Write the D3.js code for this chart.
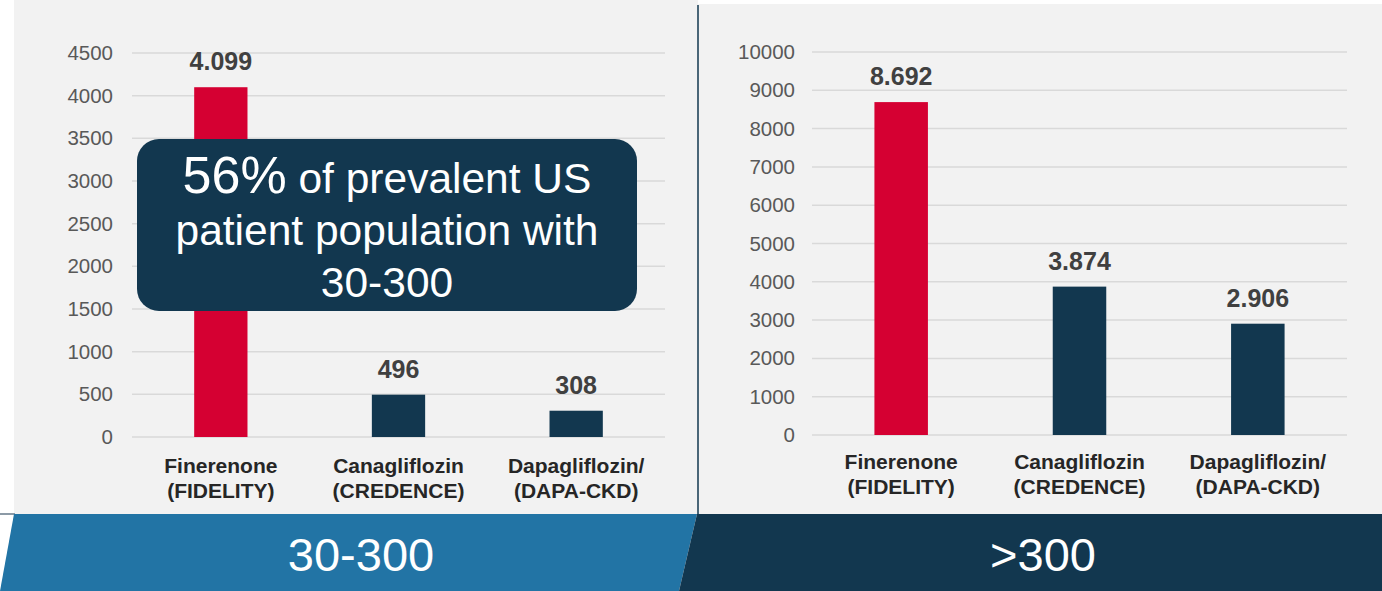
<!DOCTYPE html>
<html><head><meta charset="utf-8">
<script src="https://cdn.jsdelivr.net/npm/d3@7"></script>
<style>html,body{margin:0;padding:0;background:#fff;}svg{display:block;font-family:"Liberation Sans",Arial,sans-serif;}</style>
</head><body><svg id="c" width="1382" height="591"></svg>
<script>
const categories = [["Finerenone","(FIDELITY)"],["Canagliflozin","(CREDENCE)"],["Dapagliflozin/","(DAPA-CKD)"]];
const valuesLow = [4099, 496, 308];
const labelsLow = ["4.099", "496", "308"];
const valuesHigh = [8692, 3874, 2906];
const labelsHigh = ["8.692", "3.874", "2.906"];
const ticksLow = [0,500,1000,1500,2000,2500,3000,3500,4000,4500];
const ticksHigh = [0,1000,2000,3000,4000,5000,6000,7000,8000,9000,10000];
const barColors = ["#d50032", "#12374f", "#12374f"];
const bandLabels = ["30-300", ">300"];
const calloutLines = [["56%", " of prevalent US"], ["", "patient population with"], ["", "30-300"]];

const svg = d3.select("#c");
const NAVY = "#12374f";

// panels
svg.append("rect").attr("x",14).attr("y",0).attr("width",684).attr("height",514).attr("fill","#f2f2f2");
svg.append("rect").attr("x",698).attr("y",4).attr("width",684).attr("height",510).attr("fill","#f2f2f2");
svg.append("line").attr("x1",698).attr("x2",698).attr("y1",5).attr("y2",514).attr("stroke",NAVY).attr("stroke-width",1.5);
svg.append("line").attr("x1",0).attr("x2",15).attr("y1",514).attr("y2",514).attr("stroke","#8c9aa6").attr("stroke-width",2);

function chart(cfg){
  const x = d3.scaleBand().domain(d3.range(categories.length)).range(cfg.xr).paddingInner(0.7).paddingOuter(0.35);
  const y = d3.scaleLinear().domain([0, cfg.max]).range(cfg.yr);
  const g = svg.append("g");
  g.selectAll("line.grid").data(cfg.ticks).join("line")
    .attr("x1",cfg.xr[0]).attr("x2",cfg.xr[1])
    .attr("y1",d=>y(d)).attr("y2",d=>y(d))
    .attr("stroke","#d9d9d9").attr("stroke-width",1.5);
  const ax = d3.axisLeft(y).tickValues(cfg.ticks).tickSize(0).tickPadding(0).tickFormat(d3.format("d"));
  const axg = g.append("g").attr("transform",`translate(${cfg.labelX},0)`).call(ax);
  axg.select(".domain").remove();
  axg.selectAll("text").attr("fill","#595959").attr("font-size",20.5).attr("font-family","'Liberation Sans',Arial,sans-serif");
  g.selectAll("rect.bar").data(cfg.values).join("rect")
    .attr("x",(d,i)=>x(i)).attr("width",x.bandwidth())
    .attr("y",d=>y(d)).attr("height",d=>y(0)-y(d))
    .attr("fill",(d,i)=>barColors[i]);
  g.selectAll("text.val").data(cfg.values).join("text")
    .attr("x",(d,i)=>x(i)+x.bandwidth()/2).attr("y",d=>y(d)-17)
    .attr("text-anchor","middle").attr("font-size",25).attr("font-weight","bold").attr("fill","#404040")
    .text((d,i)=>cfg.labels[i]);
  categories.forEach((c,i)=>{
    c.forEach((t,j)=>{
      g.append("text").attr("x",x(i)+x.bandwidth()/2).attr("y",cfg.catY + j*25)
        .attr("text-anchor","middle").attr("font-size",21).attr("font-weight","bold").attr("fill","#262626").text(t);
    });
  });
}

chart({xr:[132,665], yr:[437,53], max:4500, ticks:ticksLow, values:valuesLow, labels:labelsLow, labelX:113, catY:473});
chart({xr:[812,1347], yr:[435,52], max:10000, ticks:ticksHigh, values:valuesHigh, labels:labelsHigh, labelX:795, catY:469});

// callout
svg.append("rect").attr("x",137).attr("y",139).attr("width",500).attr("height",172).attr("rx",22).attr("fill",NAVY);
const cx = 387;
calloutLines.forEach((ln,i)=>{
  const t = svg.append("text").attr("x",cx).attr("y",193 + i*52).attr("text-anchor","middle").attr("fill","#fff").attr("font-size",42.5);
  if (ln[0]) t.append("tspan").attr("font-size",52).text(ln[0]);
  t.append("tspan").text(ln[1]);
});

// bottom bands
svg.append("polygon").attr("points","14,514 697,514 679,591 0,591").attr("fill","#2274a5");
svg.append("polygon").attr("points","697,514 1382,514 1382,591 679,591").attr("fill","#12374f");
svg.append("text").attr("x",361).attr("y",571).attr("text-anchor","middle").attr("fill","#fff").attr("font-size",47).text(bandLabels[0]);
svg.append("text").attr("x",1043).attr("y",571).attr("text-anchor","middle").attr("fill","#fff").attr("font-size",47).text(bandLabels[1]);
</script></body></html>
